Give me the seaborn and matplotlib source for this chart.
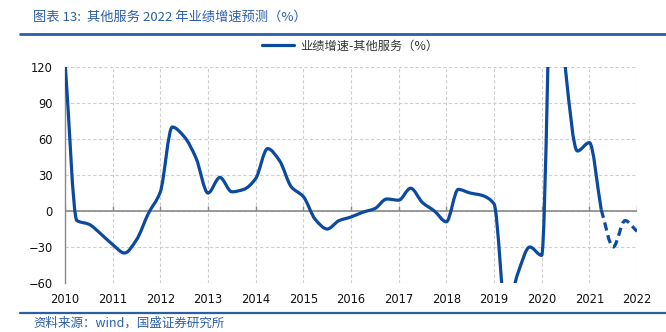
import matplotlib
matplotlib.use("Agg")
import matplotlib.pyplot as plt
from matplotlib.path import Path
from matplotlib.patches import PathPatch
import numpy as np
import pandas as pd
import seaborn as sns

# Quarterly cumulative earnings growth of the "other services" sector (%)
start_year = 2010
growth_actual = [
    125, -8, -11, -19, -28, -35, -24, -2,
    16, 70, 62, 44, 15, 28, 16, 18,
    27, 52, 42, 20, 12, -7, -15, -8,
    -5, -1, 2, 10, 9, 19, 7, 0,
    -9, 18, 15, 13, 6, -85, -52, -30,
    -37, 260, 118, 50, 57, 1,
]
# Forecast continues from the last reported quarter
growth_forecast = [1, -30, -8, -17]

year_ticks = list(range(2010, 2023))
y_ticks = [-60, -30, 0, 30, 60, 90, 120]

title_text = "图表 13:  其他服务 2022 年业绩增速预测（%）"
legend_text = "业绩增速-其他服务（%）"
source_text = "资料来源：wind，国盛证券研究所"

sns.set_style("white")
plt.rcParams["font.family"] = ["Noto Sans CJK SC", "DejaVu Sans"]

line_color = "#0b4a9e"
brand_blue = "#2a5ea8"
grid_color = "#cfcfcf"
axis_gray = "#8a8a8a"


def smooth_path(x, y):
    """Cubic Bezier path through (x, y) with monotone (Fritsch-Carlson) tangents."""
    x = np.asarray(x, float)
    y = np.asarray(y, float)
    h = np.diff(x)
    d = np.diff(y) / h
    m = np.zeros_like(y)
    m[0], m[-1] = d[0], d[-1]
    for k in range(1, len(y) - 1):
        if d[k - 1] * d[k] > 0:
            w1 = 2 * h[k] + h[k - 1]
            w2 = h[k] + 2 * h[k - 1]
            m[k] = (w1 + w2) / (w1 / d[k - 1] + w2 / d[k])
    verts = [(x[0], y[0])]
    codes = [Path.MOVETO]
    for k in range(len(x) - 1):
        verts += [(x[k] + h[k] / 3, y[k] + m[k] * h[k] / 3),
                  (x[k + 1] - h[k] / 3, y[k + 1] - m[k + 1] * h[k] / 3),
                  (x[k + 1], y[k + 1])]
        codes += [Path.CURVE4] * 3
    return Path(verts, codes)


n_act = len(growth_actual)
actual = pd.DataFrame({
    "t": start_year + np.arange(n_act) / 4.0,
    "v": growth_actual,
})
fc_start = n_act - 1
forecast = pd.DataFrame({
    "t": start_year + (fc_start + np.arange(len(growth_forecast))) / 4.0,
    "v": growth_forecast,
})

fig = plt.figure(figsize=(6.66, 3.32), dpi=100)
ax = fig.add_axes([65 / 666, 1 - 283 / 332, (637 - 65) / 666, (283 - 67) / 332])

sns.lineplot(data=actual, x="t", y="v", ax=ax, color=line_color,
             linewidth=2.3, legend=False)
sns.lineplot(data=forecast, x="t", y="v", ax=ax, color=line_color,
             linewidth=2.3, legend=False)
actual_line, forecast_line = ax.lines[-2], ax.lines[-1]
forecast_line.set_linestyle((0, (2.6, 1.5)))

ax.set_xlim(year_ticks[0], year_ticks[-1])
ax.set_ylim(y_ticks[0], y_ticks[-1])
ax.set_xticks(year_ticks)
ax.set_yticks(y_ticks)
ax.set_xticklabels([str(y) for y in year_ticks])
ax.set_xlabel("")
ax.set_ylabel("")

# legend above the plot
fig.legend([actual_line], [legend_text], loc="center",
           bbox_to_anchor=(350 / 666, 1 - 46 / 332), frameon=False,
           handlelength=2.6, handletextpad=0.5, fontsize=8.8,
           labelcolor="#333333")

# render both series as smooth curves through the same points
for line in (actual_line, forecast_line):
    xs, ys = line.get_data()
    patch = PathPatch(smooth_path(xs, ys), fill=False,
                      edgecolor=line.get_color(), linewidth=line.get_linewidth(),
                      linestyle=line.get_linestyle(), capstyle="butt",
                      joinstyle="round", zorder=3)
    if line is forecast_line:
        patch.set_linestyle((0, (2.6, 1.5)))
    ax.add_patch(patch)
    line.remove()

# dashed grid, solid zero line and left axis
ax.grid(True, color=grid_color, linestyle=(0, (3, 2)), linewidth=0.8)
ax.set_axisbelow(True)
for side in ["top", "right", "bottom"]:
    ax.spines[side].set_visible(False)
ax.spines["left"].set_color(axis_gray)
ax.spines["left"].set_linewidth(1.0)
ax.axhline(0, color=axis_gray, linewidth=1.2, zorder=1.5)
ax.vlines(year_ticks, 0, 4, color=axis_gray, linewidth=1.0, zorder=1.5)

ax.tick_params(axis="x", length=0, pad=7, labelsize=8.3, colors="#111111")
ax.tick_params(axis="y", length=0, pad=9, labelsize=8.3, colors="#111111")
for lab in ax.get_xticklabels() + ax.get_yticklabels():
    lab.set_family("DejaVu Sans")

# header and footer
fig.text(33 / 666, 1 - 17 / 332, title_text, color=brand_blue, fontsize=9.5,
         style="italic", va="center", ha="left")
fig.add_artist(plt.Line2D([20 / 666, 1.0], [1 - 34 / 332] * 2,
                          color=brand_blue, linewidth=2.0))
fig.add_artist(plt.Line2D([20 / 666, 1.0], [1 - 313 / 332] * 2,
                          color=brand_blue, linewidth=1.6))
fig.text(33 / 666, 1 - 323 / 332, source_text, color=brand_blue, fontsize=9,
         style="italic", va="center", ha="left")

fig.savefig("out.png", dpi=100)
